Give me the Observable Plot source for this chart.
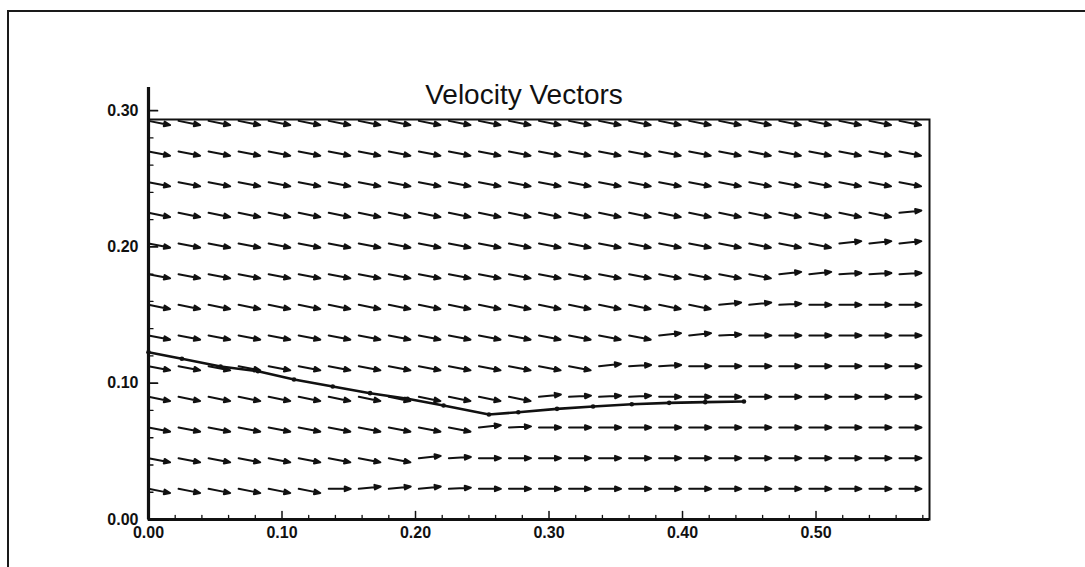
<!DOCTYPE html>
<html><head><meta charset="utf-8">
<script src="https://cdn.jsdelivr.net/npm/d3@7"></script>
<script src="https://cdn.jsdelivr.net/npm/@observablehq/plot@0.6"></script>
<style>
html,body{margin:0;padding:0;background:#fff;overflow:hidden;}
#page{position:relative;width:1085px;height:567px;overflow:hidden;}
#chart{position:absolute;left:0;top:0;}
#border{position:absolute;left:7px;top:10px;width:1300px;height:800px;border-left:2px solid #1a1a1a;border-top:2px solid #1a1a1a;pointer-events:none;}
</style></head><body>
<div id="page"><div id="chart"></div><div id="border"></div></div>
<script>
// ---- data ----
const title = "Velocity Vectors";
const xTicks = [0, 0.1, 0.2, 0.3, 0.4, 0.5];
const xTickLabels = ["0.00", "0.10", "0.20", "0.30", "0.40", "0.50"];
const yTicks = [0, 0.1, 0.2, 0.3];
const yTickLabels = ["0.00", "0.10", "0.20", "0.30"];
const xMinor = [0.02,0.04,0.06,0.08,0.12,0.14,0.16,0.18,0.22,0.24,0.26,0.28,0.32,0.34,0.36,0.38,0.42,0.44,0.46,0.48,0.52,0.54,0.56,0.58];
const yMinor = [0.02,0.04,0.06,0.08,0.12,0.14,0.16,0.18,0.22,0.24,0.26,0.28];

// vector grid positions
const colX = [0.000,0.0225,0.045,0.0675,0.090,0.1125,0.135,0.1575,0.180,0.2025,0.225,0.2475,0.270,0.2925,0.315,0.3375,0.360,0.3825,0.405,0.4275,0.450,0.4725,0.495,0.5175,0.540,0.5625];
const rowY = [0.0225,0.045,0.0675,0.090,0.1125,0.135,0.1575,0.180,0.2025,0.225,0.2475,0.270,0.2925];
// direction code per grid cell, bottom row first, one char per column
const dirRows = [
  "DDDDDDfuuusfffffffffffffff",
  "DDDDDDDDDusfffffffffffffff",
  "DDDDDDDDDDDusfffffffffffff",
  "DDDDDDDDDDDDDusssfffffffff",
  "DDDDDDDDDDDDDDDussffffffff",
  "DDDDDDDDDDDDDDDDDuusffffff",
  "DDDDDDDDDDDDDDDDDDDuusffff",
  "DDDDDDDDDDDDDDDDDDDDDuusss",
  "DDDDDDDDDDDDDDDDDDDDDDDuuu",
  "DDDDDDDDDDDDDDDDDDDDDDDDDu",
  "DDDDDDDDDDDDDDDDDDDDDDDDDD",
  "DDDDDDDDDDDDDDDDDDDDDDDDDD",
  "DDDDDDDDDDDDDDDDDDDDDDDDDD"
];
// flow angle (degrees above horizontal) for each code
const dirCodes = ["D", "u", "s", "f"];
const dirAngles = [-11, 6, 3, 0];

// solid line with markers
const lineX = [0, 0.025, 0.054, 0.082, 0.109, 0.138, 0.166, 0.194, 0.221, 0.255, 0.277, 0.306, 0.333, 0.362, 0.390, 0.417, 0.446];
const lineY = [0.1227, 0.118, 0.1123, 0.1088, 0.1027, 0.0976, 0.0927, 0.0886, 0.0836, 0.077, 0.0787, 0.0812, 0.0829, 0.0846, 0.0856, 0.0861, 0.0866];

// ---- build ----
const vectors = [];
rowY.forEach((y, j) => colX.forEach((x, i) => {
  const a = dirAngles[dirCodes.indexOf(dirRows[j][i])];
  vectors.push({x, y, a});
}));
const linePts = lineX.map((x, i) => ({x, y: lineY[i]}));

const ink = "#111";
const arrowShape = {
  draw(ctx, l) {
    const h = 6, w = 2.3;
    ctx.moveTo(0, 0); ctx.lineTo(0, -l + h);
    ctx.moveTo(0, -l); ctx.lineTo(-w, -l + h); ctx.lineTo(w, -l + h); ctx.closePath();
  }
};
const tickShape = {draw(ctx, l) { ctx.moveTo(0, 0); ctx.lineTo(0, -l); }};

const font = "'Liberation Sans', Arial, Helvetica, sans-serif";
const chart = Plot.plot({
  width: 1085, height: 567,
  marginLeft: 148, marginRight: 156, marginTop: 119, marginBottom: 48,
  x: {domain: [0, 0.585], axis: null},
  y: {domain: [0, 0.2935], axis: null},
  style: {fontFamily: font, background: "white", overflow: "visible"},
  marks: [
    Plot.vector(vectors, {x: "x", y: "y", rotate: d => 90 - d.a, length: 22, anchor: "start",
      shape: arrowShape, stroke: ink, fill: ink, strokeWidth: 2}),
    Plot.line(linePts, {x: "x", y: "y", stroke: ink, strokeWidth: 2.6}),
    Plot.dot(linePts, {x: "x", y: "y", r: 2.3, fill: ink, stroke: "none"}),
    Plot.frame({stroke: ink, strokeWidth: 2}),
    Plot.ruleY([0], {stroke: ink, strokeWidth: 3.2}),
    Plot.ruleX([0], {y1: 0, y2: 0.317, stroke: ink, strokeWidth: 3.2}),
    Plot.vector(xTicks, {x: d => d, frameAnchor: "bottom", rotate: 0, length: 8, anchor: "start", shape: tickShape, stroke: ink, strokeWidth: 1.5}),
    Plot.vector(xMinor, {x: d => d, frameAnchor: "bottom", rotate: 0, length: 4, anchor: "start", shape: tickShape, stroke: ink, strokeWidth: 1.3}),
    Plot.vector(yTicks, {y: d => d, frameAnchor: "left", rotate: 90, length: 9, anchor: "start", shape: tickShape, stroke: ink, strokeWidth: 1.7}),
    Plot.vector(yMinor, {y: d => d, frameAnchor: "left", rotate: 90, length: 4.5, anchor: "start", shape: tickShape, stroke: ink, strokeWidth: 1.3}),
    Plot.text(xTicks, {x: d => d, frameAnchor: "bottom", text: (d, i) => xTickLabels[i], dy: 18, fontSize: 16, fontWeight: "bold", fill: ink}),
    Plot.text(yTicks, {y: d => d, frameAnchor: "left", text: (d, i) => yTickLabels[i], dx: -10, textAnchor: "end", fontSize: 16, fontWeight: "bold", fill: ink}),
    Plot.text([title], {frameAnchor: "top", text: d => d, dx: -15, dy: -16, lineAnchor: "bottom", fontSize: 28, fill: ink})
  ]
});
document.getElementById("chart").appendChild(chart);
</script>
</body></html>
